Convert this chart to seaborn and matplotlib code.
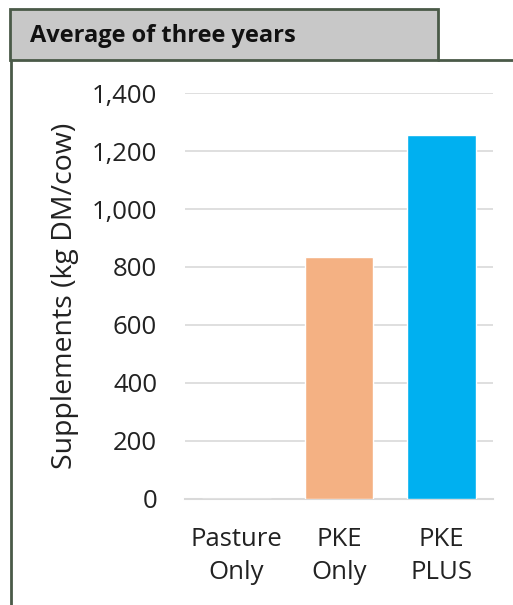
import numpy as np
import pandas as pd
import matplotlib
matplotlib.use('Agg')
import matplotlib.pyplot as plt
import seaborn as sns
from matplotlib.patches import Rectangle
from matplotlib.lines import Line2D

sns.set_style('white')
plt.rcParams['font.family'] = ['Open Sans', 'DejaVu Sans']

categories = ['Pasture\nOnly', 'PKE\nOnly', 'PKE\nPLUS']
supplements = [0, 834, 1255]
bar_colors = ['#F4B183', '#F4B183', '#00B0F0']

df = pd.DataFrame({'group': categories, 'value': supplements})

W, H = 513, 605
fig = plt.figure(figsize=(W / 100, H / 100), dpi=100)

# axes placed in pixel coords
ax = fig.add_axes([185 / W, 1 - 499 / H, (493 - 185) / W, (499 - 93) / H])
sns.barplot(data=df, x='group', y='value', hue='group', palette=bar_colors,
            width=0.67, legend=False, ax=ax, zorder=3, saturation=1)
ax.set_ylim(0, 1400)
ax.set_yticks(np.arange(0, 1401, 200))
ax.set_yticklabels([f'{v:,}' for v in range(0, 1401, 200)])
ax.yaxis.grid(True, color='#d9d9d9', linewidth=1.2, zorder=0)
ax.set_axisbelow(True)
for s in ['top', 'right', 'left']:
    ax.spines[s].set_visible(False)
ax.spines['bottom'].set_color('#d9d9d9')
ax.spines['bottom'].set_linewidth(1.5)
ax.tick_params(axis='both', length=0, labelsize=18.5, colors='#222222')
ax.tick_params(axis='x', pad=20)
ax.tick_params(axis='y', pad=20)
for t in ax.get_xticklabels():
    t.set_linespacing(1.45)
ax.set_xlabel('')
ax.set_ylabel('Supplements (kg DM/cow)', fontsize=20.5, color='#222222')
ax.yaxis.set_label_coords(-0.345, 0.5)

# header box and frame
border = '#4a5a48'
fig.patches.append(Rectangle((10 / W, 1 - 60 / H), (438 - 10) / W, (60 - 9) / H,
                             transform=fig.transFigure, facecolor='#c8c8c8',
                             edgecolor=border, linewidth=2))
fig.lines.append(Line2D([11 / W, 11 / W], [1 - 60 / H, 0], transform=fig.transFigure,
                        color=border, linewidth=2))
fig.lines.append(Line2D([438 / W, 1], [1 - 60 / H, 1 - 60 / H], transform=fig.transFigure,
                        color=border, linewidth=2))
fig.text(30 / W, 1 - 36 / H, 'Average of three years', fontsize=17, fontweight='bold',
         va='center', ha='left', color='#111111')

fig.savefig('out.png', dpi=100)
